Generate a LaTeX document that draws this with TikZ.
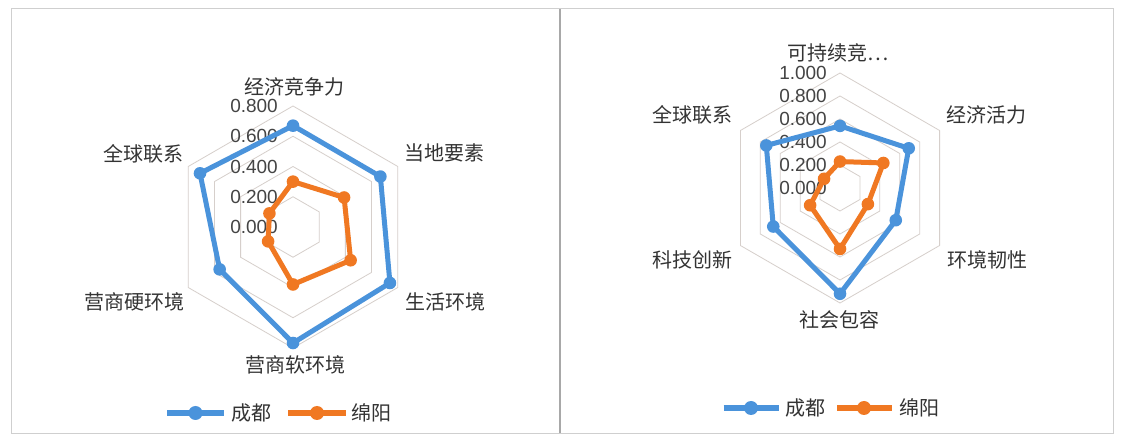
\documentclass[tikz,border=0pt]{standalone}
\usepackage{fontspec}
\newfontfamily\cjk{Noto Sans CJK SC}
\newfontfamily\lib{Liberation Sans}
\definecolor{cdblue}{HTML}{4A93DB}
\definecolor{myorange}{HTML}{F07822}
\definecolor{ringc}{HTML}{D6CFCB}
\definecolor{framec}{HTML}{CFCFCF}
\definecolor{divc}{HTML}{A8A8A8}
\definecolor{txt}{HTML}{333333}
\definecolor{ticktxt}{HTML}{444444}
\begin{document}
\begin{tikzpicture}[x=1pt,y=1pt,
  axlabel/.style={font=\cjk\fontsize{20}{20}\selectfont, text=txt, inner sep=0pt},
  ticklabel/.style={font=\lib\fontsize{19}{19}\selectfont, text=ticktxt, anchor=east, inner sep=0pt},
  ring/.style={draw=ringc, line width=0.8pt},
  blueser/.style={draw=cdblue, line width=5pt, line join=round},
  orangeser/.style={draw=myorange, line width=5pt, line join=round},
  legline/.style={line width=5.5pt}]
\useasboundingbox (0,0) rectangle (1124,444);
\fill[white] (0,0) rectangle (1124,444);
% frames
\draw[framec, line width=1pt] (11.7,10.7) rectangle (1113.5,435);
\draw[divc, line width=1.6pt] (560,10.7) -- (560,435);

% ---------------- left chart ----------------
\begin{scope}[shift={(293,217)}]
  \foreach \k in {1,...,4}{
    \pgfmathsetmacro{\r}{\k*30.25}
    \draw[ring] (90:\r) -- (30:\r) -- (-30:\r) -- (-90:\r) -- (210:\r) -- (150:\r) -- cycle;
  }
  \foreach \k/\t in {0/0.000,1/0.200,2/0.400,3/0.600,4/0.800}{
    \node[ticklabel] (lt\k) at (-15,\k*30.25) {\t};
  }
  \node[axlabel] (la1) at (1,140) {经济竞争力};
  \node[axlabel] (la2) at (151.5,74) {当地要素};
  \node[axlabel] (la3) at (152,-75) {生活环境};
  \node[axlabel] (la4) at (2,-138) {营商软环境};
  \node[axlabel] (la5) at (-159,-75) {营商硬环境};
  \node[axlabel] (la6) at (-150,73) {全球联系};
  % data
  \foreach \i/\a/\v in {1/90/0.67,2/30/0.667,3/-30/0.74,4/-90/0.767,5/210/0.56,6/150/0.71}{
    \coordinate (lb\i) at (\a:{\v*151.25});
  }
  \foreach \i/\a/\v in {1/90/0.30,2/30/0.39,3/-30/0.44,4/-90/0.38,5/210/0.19,6/150/0.18}{
    \coordinate (lo\i) at (\a:{\v*151.25});
  }
  \draw[blueser] (lb1) -- (lb2) -- (lb3) -- (lb4) -- (lb5) -- (lb6) -- cycle;
  \foreach \i in {1,...,6}{\fill[cdblue] (lb\i) circle (6.3);}
  \draw[orangeser] (lo1) -- (lo2) -- (lo3) -- (lo4) -- (lo5) -- (lo6) -- cycle;
  \foreach \i in {1,...,6}{\fill[myorange] (lo\i) circle (6.3);}
\end{scope}
% left legend
\coordinate (lgb1) at (167,31); \coordinate (lgb2) at (224,31);
\draw[cdblue, legline] (lgb1) -- (lgb2);
\fill[cdblue] (195.5,31) circle (7);
\node[axlabel, anchor=west] (lgbt) at (231.5,31) {成都};
\coordinate (lgo1) at (288,31); \coordinate (lgo2) at (346,31);
\draw[myorange, legline] (lgo1) -- (lgo2);
\fill[myorange] (317,31) circle (7);
\node[axlabel, anchor=west] (lgot) at (351.5,31) {绵阳};

% ---------------- right chart ----------------
\begin{scope}[shift={(840,256)}]
  \foreach \k in {1,...,5}{
    \pgfmathsetmacro{\r}{\k*23}
    \draw[ring] (90:\r) -- (30:\r) -- (-30:\r) -- (-90:\r) -- (210:\r) -- (150:\r) -- cycle;
  }
  \foreach \k/\t in {0/0.000,1/0.200,2/0.400,3/0.600,4/0.800,5/1.000}{
    \node[ticklabel] (rt\k) at (-13,\k*23) {\t};
  }
  \node[axlabel] (ra1) at (-2,135) {可持续竞…};
  \node[axlabel] (ra2) at (146,73) {经济活力};
  \node[axlabel] (ra3) at (147,-72) {环境韧性};
  \node[axlabel] (ra4) at (-1,-132) {社会包容};
  \node[axlabel] (ra5) at (-148,-72) {科技创新};
  \node[axlabel] (ra6) at (-148,73) {全球联系};
  \foreach \i/\a/\v in {1/90/0.54,2/30/0.69,3/-30/0.56,4/-90/0.92,5/210/0.67,6/150/0.74}{
    \coordinate (rb\i) at (\a:{\v*115});
  }
  \foreach \i/\a/\v in {1/90/0.23,2/30/0.435,3/-30/0.28,4/-90/0.53,5/210/0.30,6/150/0.16}{
    \coordinate (ro\i) at (\a:{\v*115});
  }
  \draw[blueser] (rb1) -- (rb2) -- (rb3) -- (rb4) -- (rb5) -- (rb6) -- cycle;
  \foreach \i in {1,...,6}{\fill[cdblue] (rb\i) circle (6.3);}
  \draw[orangeser] (ro1) -- (ro2) -- (ro3) -- (ro4) -- (ro5) -- (ro6) -- cycle;
  \foreach \i in {1,...,6}{\fill[myorange] (ro\i) circle (6.3);}
\end{scope}
% right legend
\coordinate (rgb1) at (723.5,36); \coordinate (rgb2) at (778.5,36);
\draw[cdblue, legline] (rgb1) -- (rgb2);
\fill[cdblue] (751,36) circle (7);
\node[axlabel, anchor=west] (rgbt) at (785,36) {成都};
\coordinate (rgo1) at (837,36); \coordinate (rgo2) at (892,36);
\draw[myorange, legline] (rgo1) -- (rgo2);
\fill[myorange] (864,36) circle (7);
\node[axlabel, anchor=west] (rgot) at (899,36) {绵阳};
\end{tikzpicture}
\end{document}
